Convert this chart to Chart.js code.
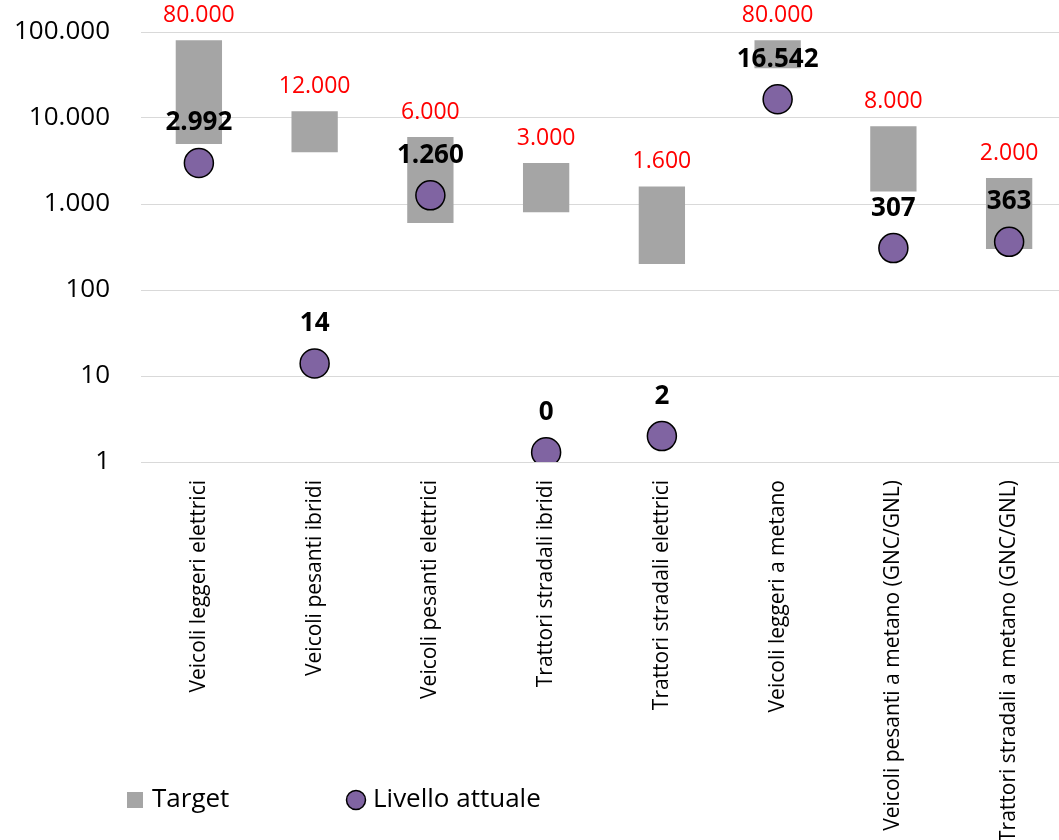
<!DOCTYPE html>
<html>
<head>
<meta charset="utf-8">
<script src="https://cdn.jsdelivr.net/npm/chart.js@4/dist/chart.umd.min.js"></script>
<style>
  body { margin: 0; background: #fff; overflow: hidden; }
  #wrap { width: 1059px; height: 840px; overflow: hidden; }
  canvas { display: block; }
</style>
</head>
<body>
<div id="wrap"><canvas id="targetChart" width="1083" height="840"></canvas></div>
<script>
const categories = [
  'Veicoli leggeri elettrici',
  'Veicoli pesanti ibridi',
  'Veicoli pesanti elettrici',
  'Trattori stradali ibridi',
  'Trattori stradali elettrici',
  'Veicoli leggeri a metano',
  'Veicoli pesanti a metano (GNC/GNL)',
  'Trattori stradali a metano (GNC/GNL)'
];
const targetLow = [5000, 4000, 600, 800, 200, 38000, 1400, 300];
const targetHigh = [80000, 12000, 6000, 3000, 1600, 80000, 8000, 2000];
const currentLevel = [2992, 14, 1260, 1.3, 2, 16542, 307, 363];
const currentLabels = ['2.992', '14', '1.260', '0', '2', '16.542', '307', '363'];
const yTicks = [1, 10, 100, 1000, 10000, 100000];

const FONT = '"Open Sans", sans-serif';
const fmt = v => String(v).replace(/\B(?=(\d{3})+(?!\d))/g, '.');

const labelPlugin = {
  id: 'labels',
  afterDraw(chart) {
    const c = chart.ctx;
    const y = chart.scales.y;
    const bars = chart.getDatasetMeta(0).data;
    const pts = chart.getDatasetMeta(1).data;
    c.save();
    c.textAlign = 'center';
    c.textBaseline = 'middle';
    c.fillStyle = '#ff0000';
    c.font = '23px ' + FONT;
    bars.forEach((b, i) => {
      c.fillText(fmt(targetHigh[i]), b.x, y.getPixelForValue(targetHigh[i]) - 25);
    });
    c.fillStyle = '#000';
    c.font = 'bold 26px ' + FONT;
    pts.forEach((p, i) => {
      c.fillText(currentLabels[i], p.x, p.y - 40);
    });

    // legend
    c.textAlign = 'left';
    c.font = '26px ' + FONT;
    c.fillStyle = '#a5a5a5';
    c.fillRect(127, 792, 16, 16);
    c.fillStyle = '#000';
    c.fillText('Target', 152, 800);
    c.beginPath();
    c.arc(356, 800, 9.5, 0, Math.PI * 2);
    c.fillStyle = '#8064a2';
    c.fill();
    c.lineWidth = 1.5;
    c.strokeStyle = '#000';
    c.stroke();
    c.fillStyle = '#000';
    c.fillText('Livello attuale', 373, 800);
    c.restore();
  }
};

const ctx = document.getElementById('targetChart').getContext('2d');
const chart = new Chart(ctx, {
  type: 'bar',
  data: {
    labels: categories,
    datasets: [
      {
        label: 'Target',
        data: targetLow.map((lo, i) => [lo, targetHigh[i]]),
        backgroundColor: '#a5a5a5',
        borderWidth: 0,
        categoryPercentage: 1,
        barPercentage: 0.4,
        order: 2
      },
      {
        type: 'line',
        label: 'Livello attuale',
        data: currentLevel,
        showLine: false,
        pointRadius: 14.5,
        pointHoverRadius: 14.5,
        pointBackgroundColor: '#8064a2',
        pointBorderColor: '#000',
        pointBorderWidth: 1.5,
        order: 1
      }
    ]
  },
  options: {
    responsive: false,
    animation: false,
    layout: { padding: { top: 32, right: 0, left: 0, bottom: 0 } },
    plugins: {
      legend: { display: false },
      tooltip: { enabled: false }
    },
    scales: {
      x: {
        grid: { display: false },
        border: { display: false },
        ticks: {
          autoSkip: false,
          minRotation: 90,
          maxRotation: 90,
          padding: 10,
          color: '#000',
          font: { family: FONT, size: 21 }
        },
        afterFit(scale) { scale.height = 378; }
      },
      y: {
        type: 'logarithmic',
        min: 1,
        max: 100000,
        grid: { color: '#d9d9d9', lineWidth: 1, drawTicks: false },
        border: { display: false },
        ticks: {
          padding: 31,
          color: '#000',
          font: { family: FONT, size: 26 },
          callback: v => fmt(v)
        },
        afterBuildTicks(scale) { scale.ticks = yTicks.map(v => ({ value: v })); },
        afterFit(scale) {
          scale.width = 141;
          scale.paddingTop = 0;
          scale.paddingBottom = 0;
        }
      }
    }
  },
  plugins: [labelPlugin]
});
</script>
</body>
</html>
